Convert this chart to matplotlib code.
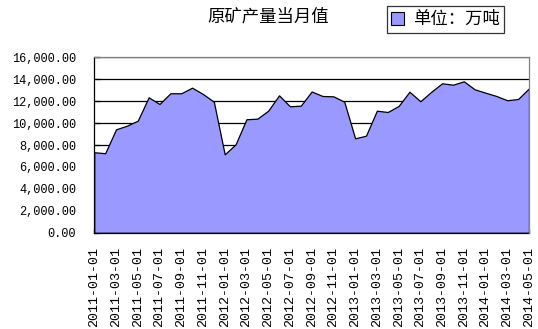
import matplotlib
matplotlib.use('Agg')
import matplotlib.pyplot as plt
from matplotlib.patches import Patch
from matplotlib.ticker import FuncFormatter
import pandas as pd

# 월별 원광 생산량 (단위: 만톤), 2011-01 ~ 2014-05
months = pd.date_range('2011-01-01', '2014-05-01', freq='MS').strftime('%Y-%m-%d').tolist()
output = [7340, 7250, 9430, 9760, 10220, 12350, 11740, 12720, 12720, 13230,
          12650, 11950, 7150, 8060, 10350, 10400, 11130, 12530, 11530, 11590,
          12880, 12470, 12440, 11950, 8610, 8850, 11130, 11010, 11560, 12860,
          11990, 12850, 13630, 13500, 13810, 13080, 12770, 12470, 12080, 12200,
          13170]
title = '原矿产量当月值'
unit_label = '单位：万吨'
area_color = '#9999ff'

cjk = ['Noto Sans CJK SC', 'DejaVu Sans']
tick_font = 'Liberation Mono'

fig = plt.figure(figsize=(5.38, 3.29), dpi=100)
ax = fig.add_axes([94.3 / 538, 1 - 232.7 / 329, (529 - 94.3) / 538, (232.7 - 57.3) / 329])

x = list(range(len(months)))
ax.fill_between(x, output, 0, facecolor=area_color, edgecolor='black', linewidth=0.9, zorder=3)

ax.set_xlim(0, len(months) - 1)
ax.set_ylim(0, 16000)
ax.set_yticks(range(0, 16001, 2000))
ax.yaxis.set_major_formatter(FuncFormatter(lambda v, p: '{:,.2f}'.format(v)))
ax.set_xticks(x[::2])
ax.set_xticklabels(months[::2], rotation=90, fontfamily=tick_font, fontsize=9.6)
for lab in ax.get_yticklabels():
    lab.set_fontfamily(tick_font)
    lab.set_fontsize(8.6)

ax.grid(axis='y', color='black', linewidth=0.9, zorder=1)
ax.set_axisbelow(True)
ax.tick_params(axis='y', direction='in', length=4, width=0.9, pad=13)
ax.tick_params(axis='x', direction='in', length=3, width=0.9, pad=10)
for s in ['left', 'bottom']:
    ax.spines[s].set_color('black')
    ax.spines[s].set_linewidth(0.9)
for s in ['top', 'right']:
    ax.spines[s].set_color('#808080')
    ax.spines[s].set_linewidth(0.9)
    ax.spines[s].set_zorder(4)

fig.text(268.5 / 538, 1 - 17 / 329, title, ha='center', va='center', fontsize=12.5, family=cjk)

handles = [Patch(facecolor=area_color, edgecolor='black', linewidth=0.8)]
leg = fig.legend(handles, [unit_label], loc='upper left', bbox_to_anchor=(387 / 538, 1 - 6 / 329),
                 prop={'family': cjk, 'size': 12.5}, frameon=True, fancybox=False,
                 borderpad=0.25, handlelength=0.75, handleheight=0.75, handletextpad=0.5,
                 borderaxespad=0)
leg.get_frame().set_edgecolor('black')
leg.get_frame().set_linewidth(0.9)

fig.savefig('out.png', dpi=100)
